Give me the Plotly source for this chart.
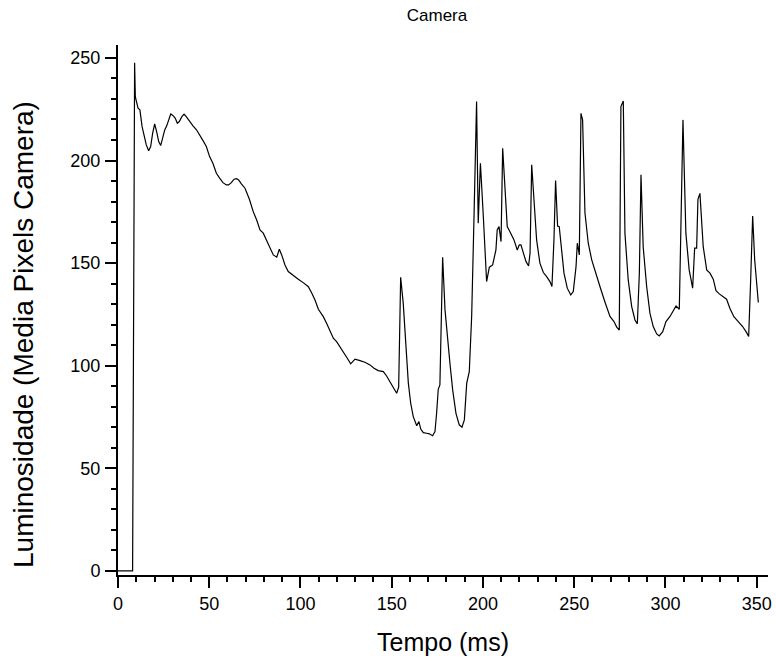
import plotly.graph_objects as go

# Time (ms)
tempo = [
    0, 8, 9.1, 9.5, 11, 12, 13.2, 14.2, 15.5, 16.8,
    17.9, 19, 20.1, 21.2, 22.3, 23.4, 24.5, 25.6, 26.7, 27.8,
    28.9, 30.1, 31.4, 32.5, 33.6, 35, 36.2, 37.4, 39.3, 41.1,
    43, 44.8, 46.6, 48.4, 50.2, 52, 53.9, 55.7, 57.5, 59.4,
    60.6, 62.1, 63.6, 65, 66.1, 67.6, 69.6, 72, 74.1, 76,
    77.8, 79.6, 81.5, 83.3, 85.1, 87, 88.4, 89.7, 91.5, 93.3,
    96.1, 98.8, 101.5, 104.3, 106.1, 107.9, 109.8, 112.5, 114.3, 116.2,
    118, 119.8, 121.6, 123.5, 125.3, 127.5, 129.9, 132.6, 135.3, 138.1,
    140.3, 142.6, 145.4, 147.2, 149, 150.9, 152.7, 153.8, 154.9, 156.3,
    157.8, 159.1, 160.4, 161.8, 163.7, 164.9, 165.9, 167.3, 169.2, 170.6,
    172.4, 173.7, 174.6, 175.5, 176.4, 177.9, 179.2, 180.4, 181.9, 183.4,
    185.2, 187, 188.5, 189.8, 191.1, 192.5, 193.8, 195.1, 196.5, 197.4,
    198.6, 200.2, 202, 203.5, 205.3, 207.1, 207.8, 208.8, 209.9, 210.8,
    212.1, 213.3, 215.2, 217, 218.8, 219.9, 220.8, 222.1, 223.6, 225,
    225.8, 226.7, 228, 229.4, 231.2, 233.1, 234.9, 236.7, 237.8, 238.9,
    239.8, 240.9, 241.8, 243.1, 244.4, 246.2, 248.1, 249.5, 251, 251.7,
    252.8, 253.7, 254.6, 255.9, 257.7, 259.6, 261.9, 264.1, 266.8, 269.6,
    271.8, 273.3, 274.7, 275.6, 276.9, 277.8, 279.6, 281.5, 283.3, 284.6,
    285.7, 286.6, 287.8, 289.7, 291.5, 293.3, 295.2, 296.6, 298.5, 300.3,
    302.5, 304.3, 305.8, 307.6, 309.6, 311.2, 313, 314.9, 316, 317.1,
    317.8, 318.9, 320.7, 322.6, 324.4, 326.2, 327.7, 329.5, 331.7, 333.5,
    335.3, 337.5, 339.9, 342.3, 344.5, 345.6, 346.7, 347.8, 348.9, 350.9,
]

# Luminosity (mean camera pixel value)
luminosidade = [
    0, 0, 247.7, 231, 225.5, 224.7, 216.5, 212.5, 207.6, 204.8,
    206.8, 213.3, 217.8, 214, 209.2, 207.3, 210.9, 214.9, 216.9, 220.1,
    222.7, 222, 220.6, 218.2, 219, 221.4, 222.6, 221.4, 219, 216.9,
    215, 212, 209.7, 206.8, 201.9, 198.7, 193.8, 191.4, 189.2, 188.1,
    188.1, 189.2, 190.9, 191.2, 190.5, 188.6, 186.5, 181.1, 175.1, 171,
    166.2, 164.6, 161, 156.8, 154, 152.9, 156.8, 154, 149.1, 145.9,
    143.8, 142.1, 140.5, 138.5, 135.6, 132.1, 127.5, 123.9, 120.7, 116.6,
    113.4, 111.7, 109, 106.4, 104.1, 100.9, 103.2, 102.5, 101.7, 100.4,
    98.8, 97.6, 97.1, 95, 92.3, 89.5, 86.6, 89.5, 143.1, 130.5,
    107.7, 91.5, 81.7, 75.2, 70.7, 72.8, 69.1, 67.4, 67.1, 66.8,
    65.9, 67.9, 76.8, 88.5, 90.6, 152.9, 127.2, 114.2, 101.2, 88.2,
    76.8, 71.2, 70, 73.6, 91.5, 97.1, 123.9, 172.7, 228.7, 169.4,
    198.7, 172.7, 141, 148, 149.1, 156.4, 166.2, 167.8, 160.5, 206,
    182.4, 167.8, 164.6, 161.3, 156.4, 158.9, 158.9, 154.8, 150.7, 148.6,
    154.8, 197.9, 177.5, 161.3, 150, 145.4, 143.4, 141, 138.6, 161.3,
    190.2, 168.1, 167.8, 154.8, 145.1, 137.8, 134.5, 136.1, 148.3, 159.7,
    154, 223, 219.8, 174.4, 159.7, 151.6, 144.3, 138.6, 131.2, 124,
    121.5, 118.8, 117.4, 226.3, 229, 164.6, 141.8, 128.8, 122.3, 120.4,
    145.1, 193, 158, 138.6, 125.6, 119.1, 115.5, 114.5, 116.6, 121.5,
    124, 127.2, 129.1, 127.5, 219.8, 164.6, 146.7, 137.8, 157.3, 157.3,
    181.1, 184, 158, 146.7, 145.1, 142.2, 136.6, 135, 133.4, 132.4,
    128, 123.9, 121.5, 119.1, 116.1, 114.2, 141.8, 173, 151.6, 130.8,
]

x_ticks = [0, 50, 100, 150, 200, 250, 300, 350]
y_ticks = [0, 50, 100, 150, 200, 250]

FONT = "Arial, 'Liberation Sans', sans-serif"

fig = go.Figure()
fig.add_trace(go.Scatter(
    x=tempo, y=luminosidade, mode="lines",
    line=dict(color="black", width=1.2),
    showlegend=False, hoverinfo="x+y",
))

axis_common = dict(
    showline=True, linecolor="black", linewidth=2,
    ticks="outside", ticklen=11, tickwidth=1.6, tickcolor="black",
    showgrid=False, zeroline=False,
    tickfont=dict(family=FONT, size=18, color="black"),
)

fig.update_xaxes(
    range=[0, 356.2], tickvals=x_ticks, ticktext=[str(v) for v in x_ticks],
    minor=dict(ticks="outside", ticklen=5, tickwidth=1.6, tickcolor="black", dtick=10, tick0=0),
    title=dict(text="Tempo (ms)", font=dict(family=FONT, size=25, color="black"), standoff=21),
    **axis_common,
)
fig.update_yaxes(
    range=[-2, 256.3], tickvals=y_ticks, ticktext=[str(v) for v in y_ticks],
    minor=dict(ticks="outside", ticklen=5, tickwidth=1.6, tickcolor="black", dtick=10, tick0=0),
    ticklabelstandoff=1,
    **axis_common,
)

fig.add_annotation(
    text="Luminosidade (Media Pixels Camera)",
    xref="paper", yref="paper",
    x=(23 - 118) / 650, y=(575 - 335) / 530,
    xanchor="center", yanchor="middle", textangle=-90, showarrow=False,
    font=dict(family=FONT, size=28, color="black"),
)

fig.update_layout(
    width=776, height=661,
    margin=dict(l=118, r=8, t=45, b=86, autoexpand=False),
    plot_bgcolor="white", paper_bgcolor="white",
    title=dict(text="Camera", x=437 / 776, xanchor="center", xref="container",
               y=1 - 15 / 661, yanchor="middle", yref="container",
               font=dict(family=FONT, size=17, color="black")),
)

fig.write_html("out.html")
